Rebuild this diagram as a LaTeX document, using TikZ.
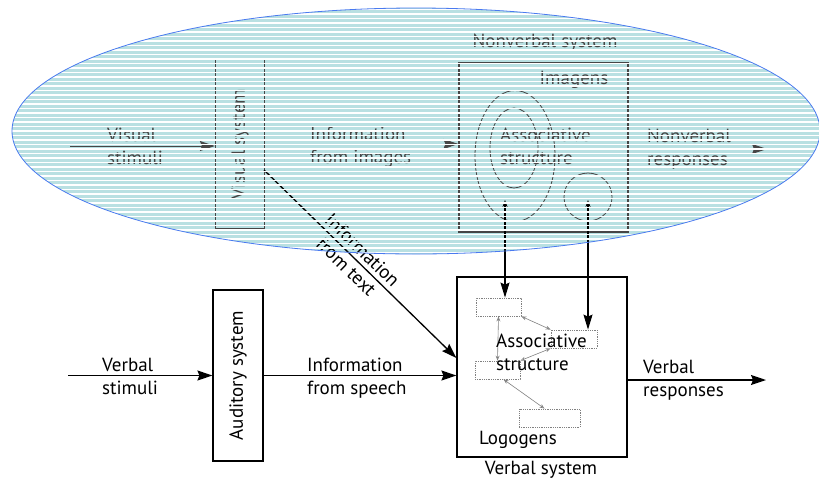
\documentclass[tikz,border=0pt]{standalone}
\usepackage{fontspec}
\setmainfont{PT Sans}
\usepackage{tikz}
\usetikzlibrary{calc}
\usetikzlibrary{shapes}
\usetikzlibrary{arrows.meta}
\definecolor{stripecyan}{RGB}{185,224,226}
\definecolor{rimblue}{RGB}{74,122,240}
\definecolor{faintgray}{RGB}{70,70,70}
\tikzset{
  sysbox/.style={draw, line width=1.2pt, inner sep=0pt},
  logobox/.style={draw=gray, densely dotted, line width=0.8pt, minimum width=#1, minimum height=18pt, inner sep=0pt},
  lbl/.style={font=\fontsize{19}{23}\selectfont, inner sep=0pt},
  dimtext/.style={text=faintgray},
  dimline/.style={draw=faintgray},
  bigarrow/.style={line width=1.3pt, -{Stealth[length=15pt,width=10pt,inset=2pt]}},
  smallarrow/.style={gray, line width=0.6pt, {Stealth[length=5pt,width=4pt,open]}-{Stealth[length=5pt,width=4pt,open]}}
}
\newcommand{\logogen}[4]{\node[logobox=#4] (#1) at ( #2 , #3 ) {};}

\begin{document}
\begin{tikzpicture}[x=1pt,y=-1pt]
        \useasboundingbox (0,0) rectangle (819,483);
        % nonverbal cloud
        \fill[stripecyan] (416,131) ellipse [x radius=404pt, y radius=123pt];

        % visual route
        \node[lbl, dimtext, align=left, anchor=west] (visstim) at (107,146) {Visual\\stimuli};
        \node[sysbox, dimline, minimum width=49pt, minimum height=169pt] (vis) at (240,144) {};
        \node[lbl, dimtext, rotate=90] (vislbl) at (vis.center) {Visual system};
        \node[lbl, dimtext, align=left, anchor=west] (imginfo) at (310,147) {Information\\from images};
        \coordinate (visin) at (70,146);
        \draw[bigarrow, faintgray, line width=1pt] (visin) -- (visin -| vis.west);

        % nonverbal system
        \node[sysbox, dimline, minimum width=169pt, minimum height=169pt] (nvs) at (543.5,147.5) {};
        \node[lbl, dimtext] (nvstitle) at (545,43) {Nonverbal system};
        \node[lbl, dimtext] (imgs) at (574,80) {Imagens};
        \node[ellipse, dimline, line width=0.8pt, minimum width=80pt, minimum height=131pt] (imgouter) at (515,156) {};
        \node[ellipse, dimline, line width=0.8pt, minimum width=48pt, minimum height=80pt] (imginner) at (514,148) {};
        \node[circle, dimline, line width=0.8pt, minimum size=48pt] (imgsmall) at (588,197) {};
        \node[lbl, dimtext, align=left, anchor=west] (nvassoc) at (500,146) {Associative\\structure};
        \node[lbl, dimtext, align=left, anchor=west] (nvresp) at (647,149) {Nonverbal\\responses};
        \coordinate (nvout) at (767,149);
        \draw[bigarrow, faintgray, line width=1pt] (vis.east) -- (vis.east -| nvs.west);
        \draw[bigarrow, faintgray, line width=1pt] (nvout -| nvs.east) -- (nvout);

        % auditory route
        \node[lbl, align=left, anchor=west] (vstim) at (102,376) {Verbal\\stimuli};
        \node[sysbox, minimum width=50pt, minimum height=171pt] (aud) at (238,375.5) {};
        \node[lbl, rotate=90] (audlbl) at (aud.center) {Auditory system};
        \node[lbl, align=left, anchor=west] (speech) at (307,378) {Information\\from speech};

        % verbal system
        \node[sysbox, minimum width=170pt, minimum height=180pt] (vsys) at (542,367) {};
        \node[lbl] (vsyslbl) at (541,470) {Verbal system};
        \node[lbl, align=left, anchor=west] (vresp) at (643,380) {Verbal\\responses};
        \logogen{lga}{498.5}{307}{45pt}
        \logogen{lgb}{574}{339}{46pt}
        \logogen{lgc}{497.5}{370}{45pt}
        \logogen{lgd}{549.5}{418}{61pt}
        \draw[smallarrow] (lga.south east) -- (lgb.north west);
        \draw[smallarrow] (lga.south) -- (lgc.north);
        \draw[smallarrow] (lgb.south west) -- (lgc.north east);
        \draw[smallarrow] ([xshift=6pt]lgc.south) -- ([xshift=-5pt]lgd.north);
        \node[lbl, align=left, anchor=west] (vassoc) at (496,352) {Associative\\structure};
        \node[lbl] (logo) at (518,440) {Logogens};

        \coordinate (vin) at (68,375.5);
        \coordinate (vout) at (766,380);
        \draw[bigarrow] (vin) -- (aud.west);
        \draw[bigarrow] (aud.east) -- (aud.east -| vsys.west);
        \draw[bigarrow] (vout -| vsys.east) -- (vout);

        % text and referential links
        \coordinate (txtout) at (264,170);
        \draw[bigarrow] (txtout) -- ([yshift=9pt]vsys.west)
            node[lbl, pos=0.47, sloped, align=center] (txtlbl) {Information\\from text};
        \coordinate (refa) at (505,200);
        \coordinate (refb) at (588,200);
        \draw[line width=1.1pt, {Stealth[length=7pt,width=5pt]}-{Stealth[length=15pt,width=9pt,inset=2pt]}] (refa) -- (refa |- lga.north);
        \draw[line width=1.1pt, {Stealth[length=7pt,width=5pt]}-{Stealth[length=15pt,width=9pt,inset=2pt]}] (refb) -- (refb |- lgb.north);

        % stripes over the cloud
        \begin{scope}
            \clip (416,131) ellipse [x radius=404pt, y radius=123pt];
            \foreach \yy in {9.5,14,...,256}
                \draw[white, line width=1.1pt] (0,\yy) -- (819,\yy);
        \end{scope}
        \draw[rimblue, line width=0.8pt] (416,131) ellipse [x radius=404pt, y radius=123pt];
\end{tikzpicture}
\end{document}
